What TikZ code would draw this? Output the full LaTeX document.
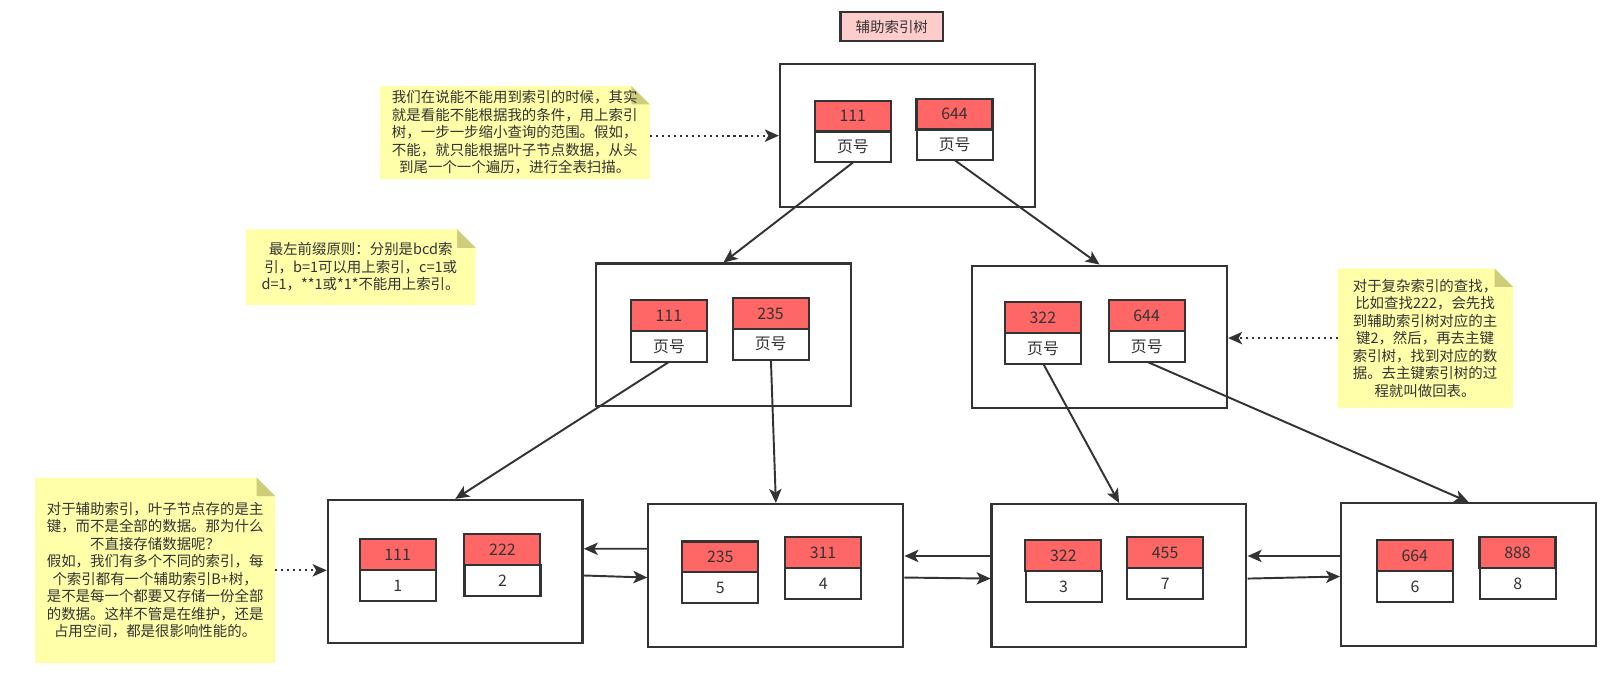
\documentclass[tikz,border=0pt]{standalone}
\usepackage{fontspec}
\setmainfont{Noto Sans CJK SC}
\usepackage{tikz}
\usetikzlibrary{positioning,calc,arrows.meta,backgrounds}

\definecolor{linec}{HTML}{333333}
\definecolor{keyred}{HTML}{FF6666}
\definecolor{titlepink}{HTML}{FFCCCC}
\definecolor{notey}{HTML}{FFFFAA}
\definecolor{notefold}{HTML}{CDCD7A}

\tikzset{
  page/.style={draw=linec, line width=1.2pt, minimum width=4.96cm, minimum height=2.78cm},
  keytop/.style={draw=linec, fill=keyred, line width=1.2pt, outer sep=0pt, inner sep=0pt,
    minimum width=1.48cm, minimum height=0.6cm, font=\fontsize{8.8}{10}\selectfont},
  keybot/.style={keytop, fill=white},
  note/.style={align=center, inner sep=0pt},
  link/.style={draw=linec, line width=1.1pt, -{Stealth[length=8pt,width=7pt,inset=2pt]}},
  hint/.style={link, line width=1.3pt, dash pattern=on 1.2pt off 2.2pt}
}

\newcommand{\keycell}[5]{%
  \node[keytop] (#1-k) at (#2,#3) {#4};
  \node[keybot, below=0pt of #1-k] (#1-p) {#5};
}
\def\foldsize{0.36cm}

\begin{document}
\begin{tikzpicture}[x=0.02cm, y=-0.02cm, scale=1.02742, transform shape,
    font=\fontsize{8}{9.7}\selectfont, text=linec]
    \useasboundingbox (0,0) rectangle (1568,660);

    % Title
    \node[draw=linec, fill=titlepink, line width=1.2pt, minimum width=2cm, minimum height=0.56cm] (title) at (868,26) {辅助索引树};

    % Define the pages
    \node[page] (root) at (883,132) {};
    \node[page] (l2l) at (704,326) {};
    \node[page] (l2r) at (1070,328) {};
    \node[page] (leaf1) at (443,556) {};
    \node[page] (leaf2) at (755,560) {};
    \node[page] (leaf3) at (1089,560) {};
    \node[page] (leaf4) at (1429,559) {};

    % Keys in the pages
    \keycell{r1}{830}{113}{111}{页号}
    \keycell{r2}{929}{111}{644}{页号}
    \keycell{a1}{651}{307}{111}{页号}
    \keycell{a2}{750}{305}{235}{页号}
    \keycell{b1}{1015}{309}{322}{页号}
    \keycell{b2}{1116}{307}{644}{页号}
    \keycell{c1}{387}{540}{111}{1}
    \keycell{c2}{489}{535}{222}{2}
    \keycell{d1}{701}{542}{235}{5}
    \keycell{d2}{801}{538}{311}{4}
    \keycell{e1}{1035}{541}{322}{3}
    \keycell{e2}{1134}{538}{455}{7}
    \keycell{f1}{1377}{541}{664}{6}
    \keycell{f2}{1477}{538}{888}{8}

    % Draw the tree links
    \draw[link] (r1-p.south) -- (l2l.north);
    \draw[link] (r2-p.south) -- (l2r.north);
    \draw[link] (a1-p.south) -- (leaf1.north);
    \draw[link] (a2-p.south) -- (leaf2.north);
    \draw[link] (b1-p.south) -- (leaf3.north);
    \draw[link] (b2-p.south) -- (leaf4.north);

    % Leaf pages linked both ways
    \draw[link] ($(leaf2.west)+(0,-26)$) -- ($(leaf1.east)+(0,-22)$);
    \draw[link] ($(leaf1.east)+(0,4)$) -- ($(leaf2.west)+(0,2)$);
    \draw[link] ($(leaf3.west)+(0,-19)$) -- ($(leaf2.east)+(0,-19)$);
    \draw[link] ($(leaf2.east)+(0,2)$) -- ($(leaf3.west)+(0,3)$);
    \draw[link] ($(leaf4.west)+(0,-18)$) -- ($(leaf3.east)+(0,-19)$);
    \draw[link] ($(leaf3.east)+(0,3)$) -- ($(leaf4.west)+(0,2)$);

    % Add the notes
    \node[note, minimum width=5.24cm, minimum height=1.8cm] (note1) at (501,129)
      {我们在说能不能用到索引的时候，其实\\就是看能不能根据我的条件，用上索引\\树，一步一步缩小查询的范围。假如，\\不能，就只能根据叶子节点数据，从头\\到尾一个一个遍历，进行全表扫描。};
    \node[note, minimum width=4.46cm, minimum height=1.46cm] (note2) at (351,260)
      {最左前缀原则：分别是bcd索\\引，b=1可以用上索引，c=1或\\d=1，**1或*1*不能用上索引。};
    \node[note, minimum width=4.66cm, minimum height=3.6cm] (note3) at (151,555)
      {对于辅助索引，叶子节点存的是主\\键，而不是全部的数据。那为什么\\不直接存储数据呢？\\假如，我们有多个不同的索引，每\\个索引都有一个辅助索引B+树，\\是不是每一个都要又存储一份全部\\的数据。这样不管是在维护，还是\\占用空间，都是很影响性能的。};
    \node[note, minimum width=3.4cm, minimum height=2.7cm] (note4) at (1387,329)
      {对于复杂索引的查找，\\比如查找222，会先找\\到辅助索引树对应的主\\键2，然后，再去主键\\索引树，找到对应的数\\据。去主键索引树的过\\程就叫做回表。};

    \draw[hint] (note1.east |- root.west) -- (root.west);
    \draw[hint] (note4.west) -- (l2r.east |- note4.west);
    \draw[hint] (note3.east) -- (leaf1.west |- note3.east);

    % Fill the note paper
    \begin{scope}[on background layer]
      \fill[white] (0,0) rectangle (1568,660);
      \foreach \n in {note1,note2,note3,note4} {
        \fill[notey] (\n.north west) -- ([xshift=-\foldsize]\n.north east)
          -- ([yshift=-\foldsize]\n.north east) -- (\n.south east) -- (\n.south west) -- cycle;
        \fill[notefold] ([xshift=-\foldsize]\n.north east)
          -- ([xshift=-\foldsize,yshift=-\foldsize]\n.north east) -- ([yshift=-\foldsize]\n.north east) -- cycle;
      }
    \end{scope}
\end{tikzpicture}
\end{document}
